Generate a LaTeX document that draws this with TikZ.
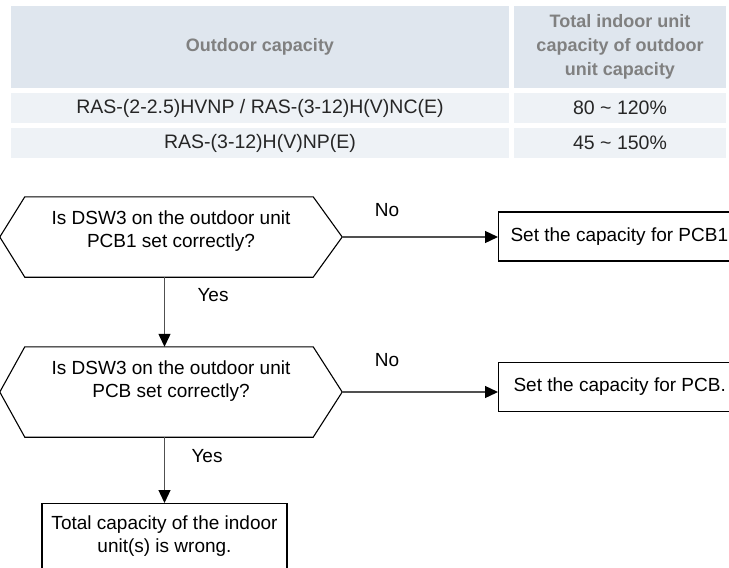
\documentclass[tikz,border=0pt]{standalone}
\usepackage{fontspec}
\setmainfont{Liberation Sans}
\usetikzlibrary{arrows.meta}
\definecolor{hdrfill}{HTML}{DFE6EE}
\definecolor{rowfill}{HTML}{EEF2F6}
\definecolor{hdrtxt}{HTML}{808080}
\definecolor{bodytxt}{HTML}{262626}
\definecolor{linec}{HTML}{505050}
\begin{document}
\begin{tikzpicture}[x=1pt,y=-1pt,
  hdrcell/.style={fill=hdrfill, inner sep=0pt, minimum height=82pt, text=hdrtxt,
    font=\fontsize{18}{24}\selectfont\bfseries, align=center},
  rowcell/.style={fill=rowfill, inner sep=0pt, minimum height=30pt, text=bodytxt,
    font=\fontsize{19.5}{22}\selectfont},
  txt/.style={font=\fontsize{19}{23}\selectfont, align=center, inner sep=0pt},
  hexnode/.style={minimum width=342pt, inner sep=0pt},
  boxnode/.style={draw=black, line width=1.1pt, font=\fontsize{19}{23}\selectfont, inner sep=0pt},
  shapeline/.style={draw=black, line width=1.1pt},
  conn/.style={draw=linec, line width=1.3pt, -{Triangle[width=12pt,length=13pt,black]}},
  lbl/.style={font=\fontsize{19}{23}\selectfont, inner sep=0pt}]
\useasboundingbox (0,0) rectangle (729,568);
\clip (0,0) rectangle (729,568);
% table
\node[hdrcell, minimum width=498pt] (h1) at (260,47) {Outdoor capacity};
\node[hdrcell, minimum width=212pt] (h2) at (620,47) {Total indoor unit\\capacity of outdoor\\unit capacity};
\node[rowcell, minimum width=498pt] (r1a) at (260,108) {RAS-(2-2.5)HVNP / RAS-(3-12)H(V)NC(E)};
\node[rowcell, minimum width=212pt] (r1b) at (620,108) {80 \textasciitilde{} 120\%};
\node[rowcell, minimum width=498pt] (r2a) at (260,143) {RAS-(3-12)H(V)NP(E)};
\node[rowcell, minimum width=212pt] (r2b) at (620,143) {45 \textasciitilde{} 150\%};
% decision 1
\node[hexnode, minimum height=80pt] (hex1) at (171,237) {};
\draw[shapeline] (hex1.west) -- ([xshift=25pt]hex1.north west) -- ([xshift=-29pt]hex1.north east)
  -- (hex1.east) -- ([xshift=-29pt]hex1.south east) -- ([xshift=25pt]hex1.south west) -- cycle;
\node[txt] (q1) at (171,231.5) {Is DSW3 on the outdoor unit\\PCB1 set correctly?};
% decision 2
\node[hexnode, minimum height=90pt] (hex2) at (171,392) {};
\draw[shapeline] (hex2.west) -- ([xshift=25pt]hex2.north west) -- ([xshift=-29pt]hex2.north east)
  -- (hex2.east) -- ([xshift=-29pt]hex2.south east) -- ([xshift=25pt]hex2.south west) -- cycle;
\node[txt] (q2) at (171,381) {Is DSW3 on the outdoor unit\\PCB set correctly?};
% action boxes
\node[boxnode, anchor=west, minimum height=49pt, inner xsep=12pt] (a1) at (498,236.5) {Set the capacity for PCB1};
\node[boxnode, anchor=west, minimum height=49pt, inner xsep=15pt] (a2) at (498,387) {Set the capacity for PCB.};
\node[boxnode, anchor=north, minimum width=245pt, minimum height=90pt] (b) at (164.5,503) {};
\node[txt] (bt) at (164.5,536.5) {Total capacity of the indoor\\unit(s) is wrong.};
% connectors
\draw[conn] (hex1.east) -- (hex1.east -| a1.west);
\draw[conn] (hex2.east) -- (hex2.east -| a2.west);
\draw[conn] (hex1.south -| b.north) -- (hex2.north -| b.north);
\draw[conn] (hex2.south -| b.north) -- (b.north);
% labels
\node[lbl] (no1) at (387,210) {No};
\node[lbl] (no2) at (387,360) {No};
\node[lbl] (yes1) at (213,295) {Yes};
\node[lbl] (yes2) at (207,456) {Yes};
\end{tikzpicture}
\end{document}
